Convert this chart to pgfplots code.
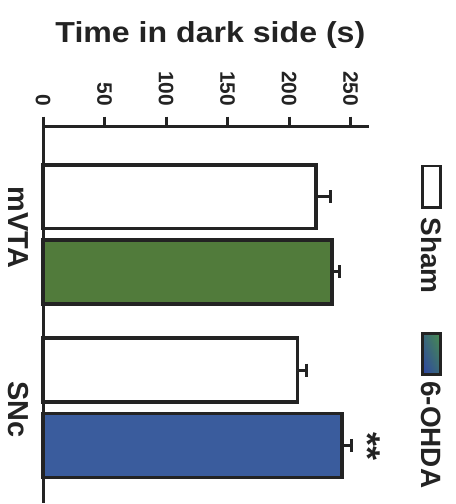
\documentclass[border=0pt]{standalone}
\usepackage{fontspec}
\setmainfont{Liberation Sans}
\usepackage{pgfplots}
\pgfplotsset{compat=1.18}
\usetikzlibrary{shadings}
\definecolor{lc}{RGB}{35,35,35}
\definecolor{grn}{RGB}{81,123,59}
\definecolor{blu}{RGB}{58,92,157}
\definecolor{lgG}{RGB}{72,140,78}
\definecolor{lgB}{RGB}{45,68,165}
\definecolor{lgM}{RGB}{58,104,122}
\begin{document}
\begin{tikzpicture}
\begin{scope}[x=0.5pt,y=-0.5pt]
\useasboundingbox (0,0) rectangle (457,504);
\end{scope}
\begin{axis}[
  at={(21.65pt,-63.5pt)}, anchor=north west,
  scale only axis, width=163.35pt, height=188.5pt,
  xmin=0, xmax=265, ymin=0.454, ymax=2.621,
  clip=false,
  axis x line=top, axis y line=left,
  axis line style={-, line width=1.5pt, draw=lc},
  xtick={0,50,100,150,200,250},
  tick align=outside,
  major tick length=5pt,
  xtick style={line width=1.5pt, draw=lc},
  ytick={0.989,2.04}, yticklabels={SNc,mVTA},
  ytick style={draw=none},
  /pgf/number format/assume math mode=true,
  xticklabel style={rotate=-90, anchor=east, inner sep=0pt, font=\fontsize{10.5}{12}\selectfont\bfseries, text=lc},
  xticklabel shift=5pt,
  yticklabel style={rotate=-90, anchor=north, inner sep=0pt, outer sep=0pt, font=\fontsize{14.5}{16}\selectfont\bfseries, text=lc},
  yticklabel shift=2.5pt,
  bar width=0.368, bar shift=0pt,
  error bars/error bar style={line width=1.5pt, draw=lc},
  error bars/error mark=|,
  error bars/error mark options={line width=1.5pt, draw=lc, mark size=3.25pt},
]
% Sham, mVTA (group centre y=2)
\addplot[xbar, fill=white, draw=lc, line width=1.8pt,
  error bars/.cd, x dir=plus, x explicit] coordinates {(222,2.217) +- (12,0)};
% 6-OHDA, mVTA
\addplot[xbar, fill=grn, draw=lc, line width=1.8pt,
  error bars/.cd, x dir=plus, x explicit] coordinates {(235,1.783) +- (6,0)};
% Sham, SNc (group centre y=1)
\addplot[xbar, fill=white, draw=lc, line width=1.8pt,
  error bars/.cd, x dir=plus, x explicit] coordinates {(207,1.217) +- (7,0)};
% 6-OHDA, SNc
\addplot[xbar, fill=blu, draw=lc, line width=1.8pt,
  error bars/.cd, x dir=plus, x explicit] coordinates {(243,0.783) +- (8,0)};
\node[rotate=-90, font=\fontsize{18}{20}\selectfont\bfseries, text=lc] at (axis cs:264.5,0.776) {**};
\end{axis}
\begin{scope}[x=0.5pt,y=-0.5pt]
\draw[lc, line width=1.5pt, fill=white] (423.5,166.5) rectangle (441.5,208.5);
\shade[upper right=lgG, lower left=lgB, upper left=lgM, lower right=lgM] (423.5,334.5) rectangle (441.5,375.5);
\draw[lc, line width=1.5pt] (423.5,334.5) rectangle (441.5,375.5);
\node[rotate=-90, anchor=base west, inner sep=0pt, font=\fontsize{14}{16}\selectfont\bfseries, text=lc] at (423,218) {Sham};
\node[rotate=-90, anchor=base west, inner sep=0pt, font=\fontsize{14}{16}\selectfont\bfseries, text=lc] at (423,382) {6-OHDA};
\node[anchor=base, xscale=1.11, inner sep=0pt, font=\fontsize{14.5}{17}\selectfont\bfseries, text=lc] at (211,43) {Time in dark side (s)};
\end{scope}
\end{tikzpicture}
\end{document}
